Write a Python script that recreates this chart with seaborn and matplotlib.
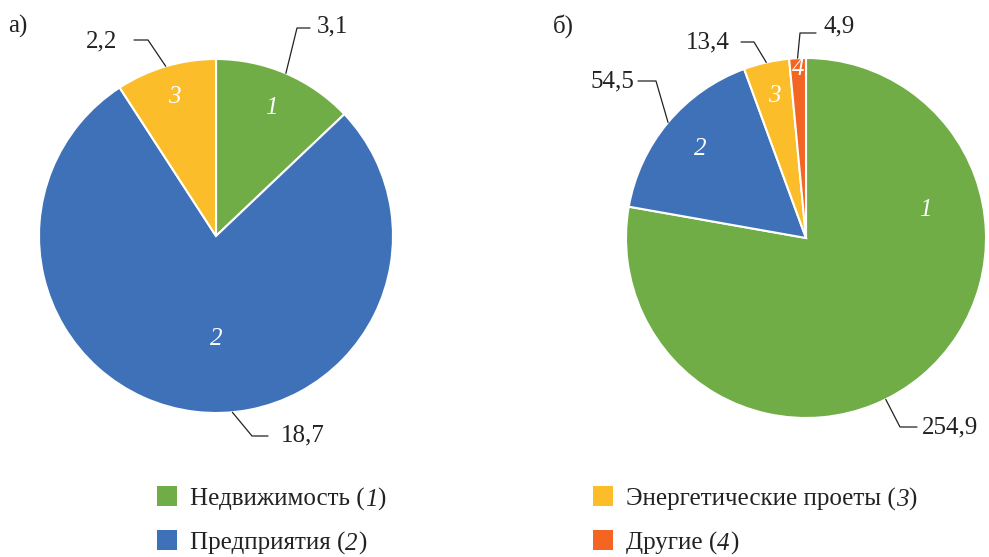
import numpy as np
import seaborn as sns
import matplotlib.pyplot as plt
from matplotlib.patches import Rectangle

# data
cats_a = ["Недвижимость", "Предприятия", "Энергетические проеты"]
vals_a = [3.1, 18.7, 2.2]
cats_b = ["Недвижимость", "Предприятия", "Энергетические проеты", "Другие"]
vals_b = [254.9, 54.5, 13.4, 4.9]
legend_labels = ["Недвижимость", "Предприятия", "Энергетические проеты", "Другие"]

colors = ["#70AD47", "#3F71B8", "#FBBD29", "#F26522"]

sns.set_theme(style="white")
plt.rcParams["font.family"] = ["Liberation Serif", "DejaVu Serif"]

W, H = 989, 557
fig = plt.figure(figsize=(W / 100, H / 100), dpi=100)
ax = fig.add_axes([0, 0, 1, 1])

FS = 18
txt_col = "#222222"


def fmt(v):
    return f"{v:.1f}".replace(".", ",")


def Y(y):
    return H - y


def draw_pie(vals, center, r, inner, outer):
    wedges, _ = ax.pie(vals, colors=colors[:len(vals)], startangle=90,
                       counterclock=False, center=center, radius=r,
                       wedgeprops=dict(edgecolor="white", linewidth=1.5))
    cx, cy = center
    for i, w in enumerate(wedges):
        mid = np.deg2rad((w.theta1 + w.theta2) / 2)
        # inner index label
        ang, frac = inner[i]
        a = mid if ang is None else np.deg2rad(ang)
        ax.text(cx + frac * r * np.cos(a), cy + frac * r * np.sin(a), str(i + 1),
                color="white", style="italic", fontsize=FS, ha="center", va="center")
        # outer value label with leader line
        ang, elbow, end, tx = outer[i]
        a = mid if ang is None else np.deg2rad(ang)
        p0 = (cx + r * np.cos(a), cy + r * np.sin(a))
        ax.plot([p0[0], elbow[0], end[0]], [p0[1], elbow[1], end[1]],
                color="#222222", lw=0.9)
        ax.text(tx[0], tx[1], fmt(vals[i]), fontsize=FS, color=txt_col,
                ha="left", va="center")


# left pie (а)
draw_pie(vals_a, (216, Y(236)), 177,
         inner=[(None, 0.79), (-90, 0.58), (None, 0.82)],
         outer=[(None, (297, Y(28)), (310, Y(28)), (317, Y(26))),
                (-84.7, (252, Y(436)), (268, Y(436)), (281, Y(435))),
                (None, (148, Y(40)), (134, Y(40)), (86, Y(41)))])

# right pie (б)
draw_pie(vals_b, (806, Y(238)), 180,
         inner=[(13, 0.68), (None, 0.77), (None, 0.81), (None, 0.94)],
         outer=[(-63.7, (900, Y(427)), (917, Y(427)), (922, Y(427))),
                (None, (656, Y(81)), (638, Y(81)), (590, Y(81))),
                (None, (754, Y(42)), (741, Y(42)), (686, Y(42))),
                (None, (800, Y(33)), (816, Y(33)), (823, Y(26)))])

ax.text(8, Y(26), "а)", fontsize=FS, color=txt_col, ha="left", va="center")
ax.text(553, Y(26), "б)", fontsize=FS, color=txt_col, ha="left", va="center")

# legend: square, name, italic index in brackets
leg_pos = [(157, 506), (157, 550), (593, 506), (593, 550)]
for i, (name, (lx, ly)) in enumerate(zip(legend_labels, leg_pos)):
    ax.add_patch(Rectangle((lx, Y(ly)), 20, 20, facecolor=colors[i], edgecolor="none"))
    t1 = ax.text(lx + 33, Y(ly), f"{name} (", fontsize=FS, color=txt_col,
                 ha="left", va="baseline")
    t2 = ax.annotate(str(i + 1), xy=(1, 0), xycoords=t1, fontsize=FS,
                     color=txt_col, style="italic", ha="left", va="bottom")
    ax.annotate(")", xy=(1, 0), xycoords=t2, fontsize=FS, color=txt_col,
                ha="left", va="bottom")

ax.set_xlim(0, W)
ax.set_ylim(0, H)
ax.set_aspect("equal")
ax.axis("off")

fig.savefig("out.png", dpi=100)
